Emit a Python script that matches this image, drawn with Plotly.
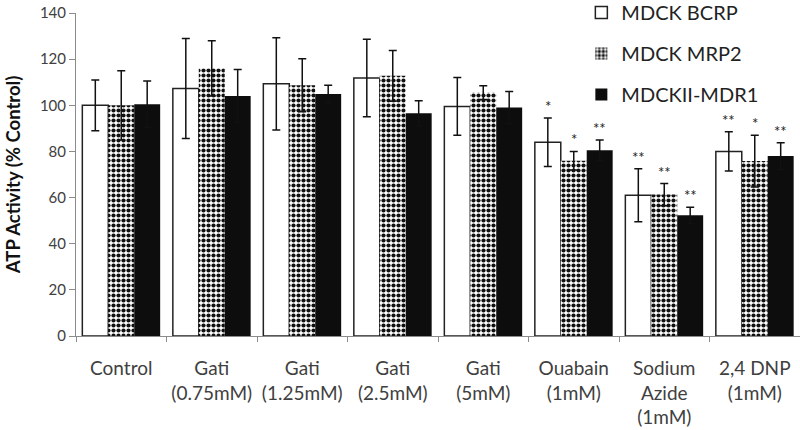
import plotly.graph_objects as go

categories = ["Control", "Gati<br>(0.75mM)", "Gati<br>(1.25mM)", "Gati<br>(2.5mM)",
              "Gati<br>(5mM)", "Ouabain<br>(1mM)", "Sodium<br>Azide<br>(1mM)", "2,4 DNP<br>(1mM)"]
series_names = ["MDCK BCRP", "MDCK MRP2", "MDCKII-MDR1"]

bcrp = [100, 107.3, 109.3, 111.8, 99.5, 84, 61, 80]
bcrp_err = [11, 21.7, 20, 16.8, 12.5, 10.5, 11.5, 8.5]
mrp2 = [100, 116, 108.7, 112.8, 105.5, 76, 61.3, 75.8]
mrp2_err = [15, 12, 11.5, 11, 3, 4, 4.8, 11.2]
mdr1 = [100.5, 104, 104.9, 96.5, 99, 80.5, 52.3, 78]
mdr1_err = [10, 11.5, 3.8, 5.5, 7, 4.5, 3.5, 5.8]

bcrp_stars = ["", "", "", "", "", "*", "**", "**"]
mrp2_stars = ["", "", "", "", "", "*", "**", "*"]
mdr1_stars = ["", "", "", "", "", "**", "**", "**"]

FONT = "Lato"
BARGAP = 0.14

fig = go.Figure()
err_style = dict(type="data", color="#111111", thickness=1.5, width=4)

fig.add_trace(go.Bar(
    name=series_names[0], x=categories, y=bcrp,
    error_y=dict(array=bcrp_err, **err_style),
    marker=dict(color="white", line=dict(color="#222222", width=1.5)),
    legendgroup="a",
))
fig.add_trace(go.Bar(
    name=series_names[1], x=categories, y=mrp2,
    error_y=dict(array=mrp2_err, **err_style),
    marker=dict(color="white", line=dict(width=0),
                pattern=dict(shape=".", size=5, solidity=0.55, fgcolor="#111111",
                             bgcolor="white", fillmode="replace")),
    legendgroup="b",
))
fig.add_trace(go.Bar(
    name=series_names[2], x=categories, y=mdr1,
    error_y=dict(array=mdr1_err, **err_style),
    marker=dict(color="#0d0d0d", line=dict(width=0)),
    legendgroup="c",
))

# significance stars
bw = (1 - BARGAP) / 3
for k, (vals, errs, stars) in enumerate([(bcrp, bcrp_err, bcrp_stars),
                                          (mrp2, mrp2_err, mrp2_stars),
                                          (mdr1, mdr1_err, mdr1_stars)]):
    for i, (v, e, s) in enumerate(zip(vals, errs, stars)):
        if s:
            fig.add_annotation(x=i + (k - 1) * bw, y=v + e, text=s, showarrow=False,
                               yanchor="bottom", yshift=1,
                               font=dict(family=FONT, size=15, color="#222222"))

fig.update_layout(
    width=800, height=430,
    margin=dict(l=76, r=0, t=13, b=94, autoexpand=False),
    paper_bgcolor="white", plot_bgcolor="white",
    barmode="group", bargap=BARGAP, bargroupgap=0,
    font=dict(family=FONT, color="#404040"),
    showlegend=True,
    legend=dict(x=0.698, y=1.062, xanchor="left", yanchor="top",
                font=dict(family=FONT, size=20, color="#222222"),
                traceorder="grouped", tracegroupgap=12,
                bgcolor="rgba(0,0,0,0)"),
)
fig.update_xaxes(
    type="category", showline=True, linecolor="#8c8c8c", linewidth=1,
    ticks="outside", tickson="boundaries", ticklen=5, tickcolor="#8c8c8c",
    tickfont=dict(family=FONT, size=19, color="#404040"),
    ticklabelstandoff=15, showgrid=False, automargin=False,
)
fig.update_yaxes(
    range=[0, 140], dtick=20, showline=True, linecolor="#8c8c8c", linewidth=1,
    ticks="outside", ticklen=6, tickcolor="#8c8c8c",
    tickfont=dict(family=FONT, size=15, color="#404040"),
    showgrid=False, zeroline=False, automargin=False,
    title=dict(text="<b>ATP Activity (% Control)</b>", standoff=14,
               font=dict(family=FONT, size=18.5, color="#111111")),
)

fig.write_html("out.html", config={"displayModeBar": False},
               post_script="document.body.style.margin='0px';")
